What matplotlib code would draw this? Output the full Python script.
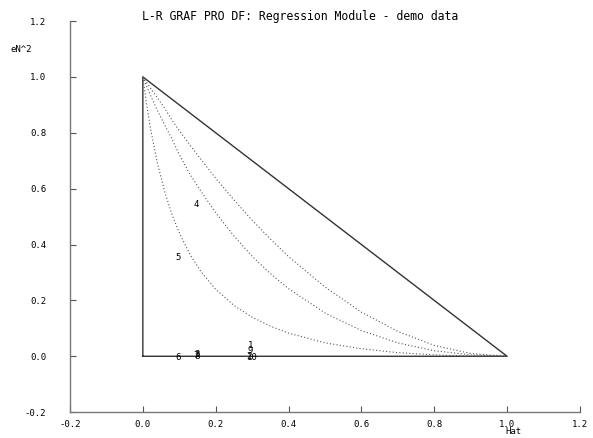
import matplotlib
matplotlib.use('Agg')

import matplotlib.pyplot as plt

# triangle bounding the L-R plot
tri_h = [0.0, 0.0, 1.0, 0.0]
tri_e = [0.0, 1.0, 0.0, 0.0]

# contour curves
hat_grid = [0.0, 0.01, 0.02, 0.04, 0.06, 0.08, 0.10, 0.13, 0.16, 0.20, 0.25,
            0.30, 0.35, 0.40, 0.50, 0.60, 0.70, 0.80, 0.90, 1.0]
curve_inner = [1.0, 0.905, 0.823, 0.691, 0.589, 0.508, 0.442, 0.363, 0.302,
               0.240, 0.182, 0.140, 0.108, 0.083, 0.048, 0.027, 0.013, 0.005,
               0.001, 0.0]
curve_mid = [1.0, 0.968, 0.937, 0.880, 0.828, 0.778, 0.722, 0.650, 0.590,
             0.514, 0.431, 0.358, 0.296, 0.242, 0.155, 0.092, 0.048, 0.020,
             0.005, 0.0]
curve_outer = [1.0, 0.981, 0.962, 0.925, 0.888, 0.845, 0.808, 0.755, 0.704,
               0.637, 0.560, 0.487, 0.420, 0.357, 0.248, 0.158, 0.089, 0.039,
               0.010, 0.0]

# observations: hat, eN^2, label
pt_hat = [0.296, 0.292, 0.148, 0.146, 0.096, 0.096, 0.146, 0.150, 0.296, 0.300]
pt_e2 = [0.040, -0.002, 0.008, 0.545, 0.355, -0.003, 0.003, -0.002, 0.022, -0.003]
pt_lab = ["1", "2", "3", "4", "5", "6", "7", "8", "9", "10"]

fig = plt.figure(figsize=(5.93, 4.38), dpi=100)
ax = fig.add_axes([0.118, 0.059, 0.860, 0.893])

ax.plot(tri_h, tri_e, color="#333333", lw=1.0)
for c in (curve_inner, curve_mid, curve_outer):
    ax.plot(hat_grid, c, color="#555555", lw=0.8, linestyle=(0, (1, 2)))

for h, e, s in zip(pt_hat, pt_e2, pt_lab):
    ax.text(h, e, s, fontsize=6.5, family="DejaVu Sans Mono",
            ha="center", va="center")

ax.set_xlim(-0.2, 1.2)
ax.set_ylim(-0.2, 1.2)
ticks = [-0.2, 0.0, 0.2, 0.4, 0.6, 0.8, 1.0, 1.2]
ax.set_xticks(ticks)
ax.set_yticks(ticks)
ax.set_xticklabels(["%.1f" % t for t in ticks])
ax.set_yticklabels(["%.1f" % t for t in ticks])
ax.tick_params(direction="in", length=4, width=0.8, color="#555555",
               labelsize=6.5)
ax.tick_params(axis="y", pad=17)
ax.tick_params(axis="x", pad=6)
for lab in ax.get_xticklabels() + ax.get_yticklabels():
    lab.set_family("DejaVu Sans Mono")

for side in ("top", "right"):
    ax.spines[side].set_visible(False)
for side in ("left", "bottom"):
    ax.spines[side].set_color("#777777")
    ax.spines[side].set_linewidth(1.0)

fig.text(0.506, 0.963, "L-R GRAF PRO DF: Regression Module - demo data",
         family="DejaVu Sans Mono", fontsize=8.3, ha="center", va="center")
fig.text(0.036, 0.888, "eN^2", family="DejaVu Sans Mono", fontsize=6.5,
         ha="center", va="center")
fig.text(0.866, 0.014, "Hat", family="DejaVu Sans Mono", fontsize=6.5,
         ha="center", va="center")

fig.savefig("out.png", dpi=100)
plt.close(fig)
